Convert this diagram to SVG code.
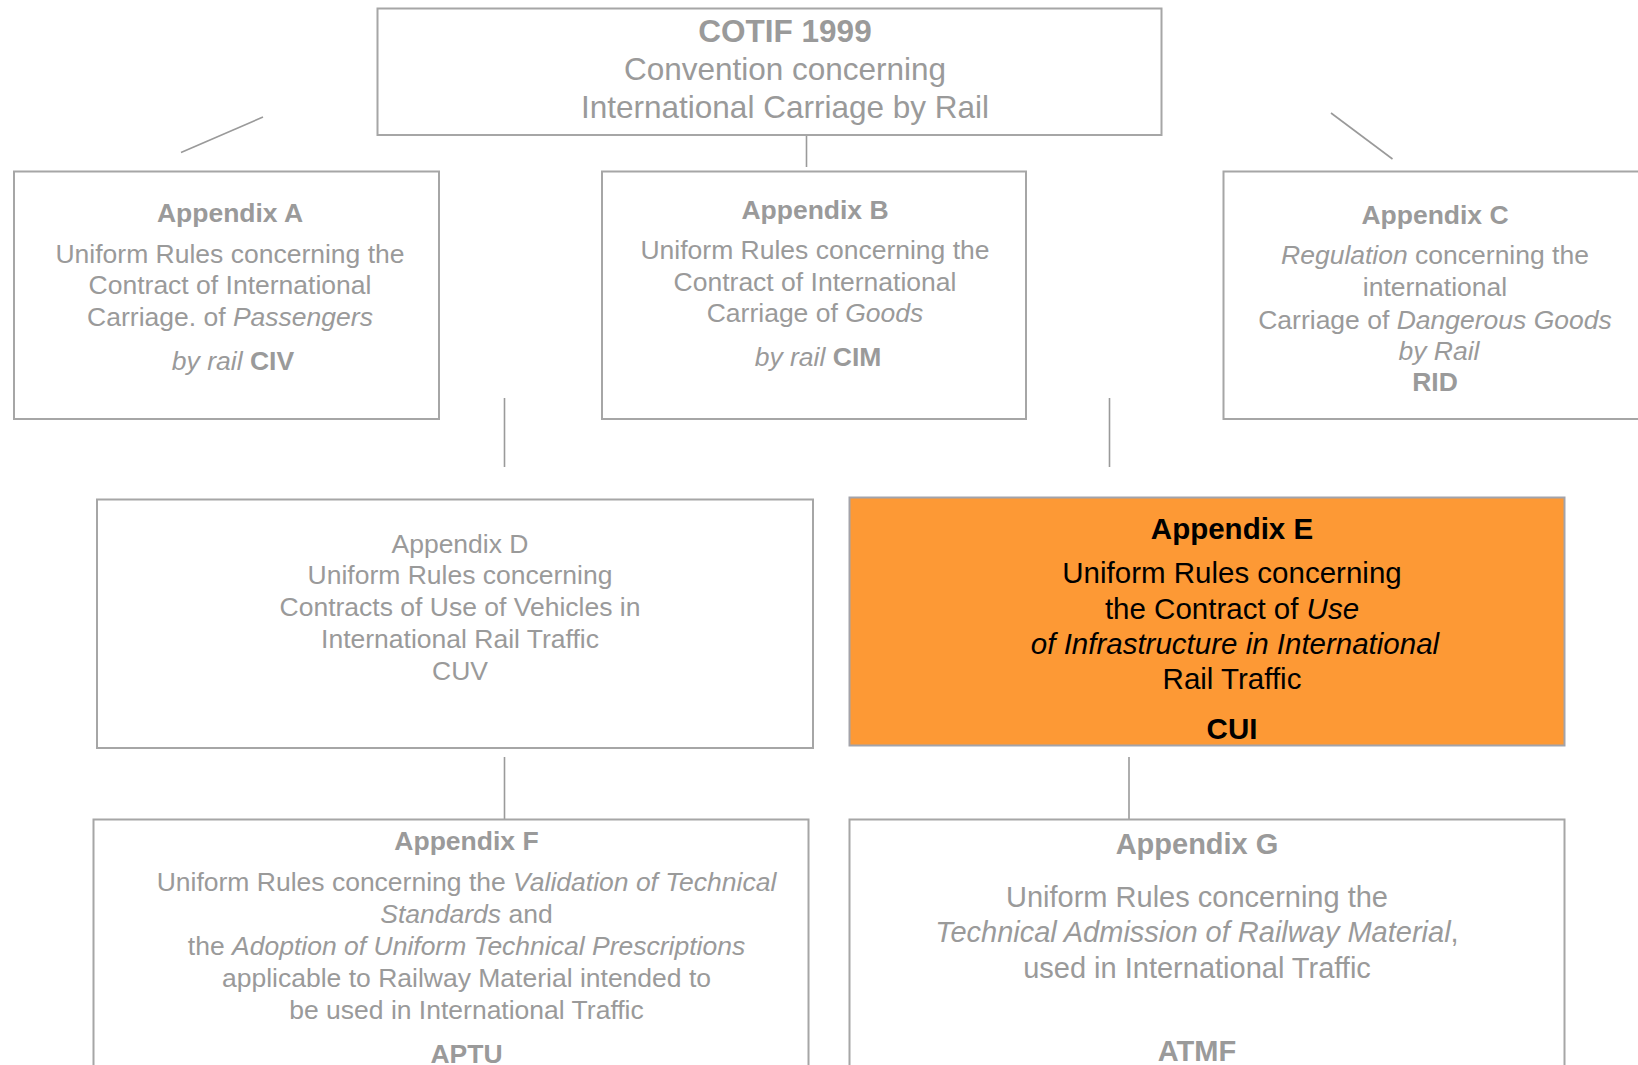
<svg xmlns="http://www.w3.org/2000/svg" width="1638" height="1065" viewBox="0 0 1638 1065">
<style>
.box{fill:#ffffff;stroke:#a6a6a6;stroke-width:2}
.hl{fill:#fd9935;stroke:#a3a3aa;stroke-width:2}
.conn line{stroke:#9a9a9a;stroke-width:1.6}
text{font-family:"Liberation Sans",Arial,sans-serif;fill:#9a9a9a;text-anchor:middle}
.t31{font-size:31.5px}
.t26{font-size:26.5px}
.t29{font-size:29px}
.t295{font-size:29.5px}
.dark{fill:#000000}
.b{font-weight:bold}
.i{font-style:italic}
</style>
<rect width="1638" height="1065" fill="#ffffff"/>
<g id="connectors" class="conn">
<line x1="181" y1="152.5" x2="263" y2="117"/>
<line x1="806.5" y1="135" x2="806.5" y2="167"/>
<line x1="1331" y1="113" x2="1392.5" y2="159"/>
<line x1="504.5" y1="398" x2="504.5" y2="467"/>
<line x1="1109.5" y1="398" x2="1109.5" y2="467"/>
<line x1="504.5" y1="757" x2="504.5" y2="819"/>
<line x1="1129" y1="757" x2="1129" y2="819"/>
</g>
<g id="cotif">
<rect class="box" x="377.5" y="8.5" width="784" height="126.5"/>
<text class="t31 b" x="785" y="42">COTIF 1999</text>
<text class="t31" x="785" y="80">Convention concerning</text>
<text class="t31" x="785" y="118">International Carriage by Rail</text>
</g>
<g id="appendixA">
<rect class="box" x="14" y="171.5" width="425" height="247.5"/>
<text class="t26 b" x="230" y="222">Appendix A</text>
<text class="t26" x="230" y="263">Uniform Rules concerning the</text>
<text class="t26" x="230" y="294">Contract of International</text>
<text class="t26" x="230" y="326">Carriage. of <tspan class="i">Passengers</tspan></text>
<text class="t26" x="233" y="370"><tspan class="i">by rail</tspan> <tspan class="b">CIV</tspan></text>
</g>
<g id="appendixB">
<rect class="box" x="602" y="171.5" width="424" height="247.5"/>
<text class="t26 b" x="815" y="219">Appendix B</text>
<text class="t26" x="815" y="259">Uniform Rules concerning the</text>
<text class="t26" x="815" y="291">Contract of International</text>
<text class="t26" x="815" y="322">Carriage of <tspan class="i">Goods</tspan></text>
<text class="t26" x="818" y="366"><tspan class="i">by rail</tspan> <tspan class="b">CIM</tspan></text>
</g>
<g id="appendixC">
<rect class="box" x="1223.5" y="171.5" width="440" height="247.5"/>
<text class="t26 b" x="1435" y="224">Appendix C</text>
<text class="t26" x="1435" y="264"><tspan class="i">Regulation</tspan> concerning the</text>
<text class="t26" x="1435" y="296">international</text>
<text class="t26" x="1435" y="329">Carriage of <tspan class="i">Dangerous Goods</tspan></text>
<text class="t26 i" x="1439" y="360">by Rail</text>
<text class="t26 b" x="1435" y="391">RID</text>
</g>
<g id="appendixD">
<rect class="box" x="97" y="499.5" width="716" height="248.5"/>
<text class="t26" x="460" y="552.5">Appendix D</text>
<text class="t26" x="460" y="584">Uniform Rules concerning</text>
<text class="t26" x="460" y="616">Contracts of Use of Vehicles in</text>
<text class="t26" x="460" y="648">International Rail Traffic</text>
<text class="t26" x="460" y="680">CUV</text>
</g>
<g id="appendixE">
<rect class="hl" x="849.5" y="497.5" width="715" height="248"/>
<text class="t295 b dark" x="1232" y="539">Appendix E</text>
<text class="t295 dark" x="1232" y="583">Uniform Rules concerning</text>
<text class="t295 dark" x="1232" y="618.5">the Contract of <tspan class="i">Use</tspan></text>
<text class="t295 i dark" x="1235" y="654">of Infrastructure in International</text>
<text class="t295 dark" x="1232" y="688.5">Rail Traffic</text>
<text class="t295 b dark" x="1232" y="739">CUI</text>
</g>
<g id="appendixF">
<rect class="box" x="93.5" y="819.5" width="715" height="270"/>
<text class="t26 b" x="466.5" y="850">Appendix F</text>
<text class="t26" x="466.5" y="891">Uniform Rules concerning the <tspan class="i">Validation of Technical</tspan></text>
<text class="t26" x="466.5" y="922.5"><tspan class="i">Standards</tspan> and</text>
<text class="t26" x="466.5" y="955">the <tspan class="i">Adoption of Uniform Technical Prescriptions</tspan></text>
<text class="t26" x="466.5" y="987">applicable to Railway Material intended to</text>
<text class="t26" x="466.5" y="1018.5">be used in International Traffic</text>
<text class="t26 b" x="466.5" y="1062.5">APTU</text>
</g>
<g id="appendixG">
<rect class="box" x="849.5" y="819.5" width="715" height="270"/>
<text class="t29 b" x="1197" y="854">Appendix G</text>
<text class="t29" x="1197" y="906.5">Uniform Rules concerning the</text>
<text class="t29" x="1197" y="942"><tspan class="i">Technical Admission of Railway Material</tspan>,</text>
<text class="t29" x="1197" y="977.5">used in International Traffic</text>
<text class="t29 b" x="1197" y="1061">ATMF</text>
</g>
</svg>
